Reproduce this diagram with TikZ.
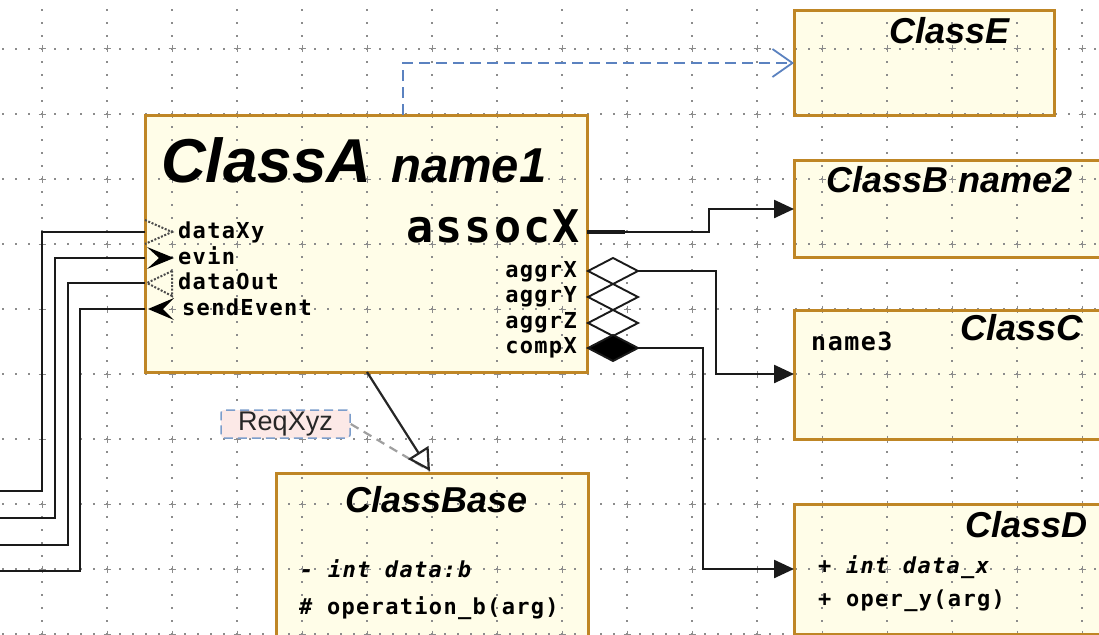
\documentclass[tikz,border=0pt]{standalone}
\usepackage{fontspec}
\setmainfont{Liberation Sans}
\newfontfamily\monoS[LetterSpace=6,BoldFont={DejaVu Sans Mono Bold},BoldItalicFont={DejaVu Sans Mono Bold Oblique},ItalicFont={DejaVu Sans Mono Oblique}]{DejaVu Sans Mono}
\newfontfamily\monoL[LetterSpace=5,BoldFont={DejaVu Sans Mono Bold}]{DejaVu Sans Mono}
\usetikzlibrary{arrows.meta}
\definecolor{boxfill}{HTML}{FFFDE8}
\definecolor{boxline}{HTML}{BF8625}
\definecolor{gridc}{HTML}{8C8C8C}
\definecolor{depblue}{HTML}{5B82C0}
\definecolor{reqfill}{HTML}{FCE9E7}
\definecolor{reqline}{HTML}{7C9DCB}
\definecolor{wirec}{HTML}{1A1A1A}
\tikzset{
  boxbg/.style={fill=boxfill, draw=none, anchor=north west, inner sep=0pt},
  boxborder/.style={draw=boxline, line width=3pt},
  wire/.style={draw=wirec, line width=2.4pt},
  portdot/.style={draw=gray!60!black, line width=2pt, dash pattern=on 2pt off 1.6pt},
  ttl/.style={anchor=base west, inner sep=0pt, font=\fontsize{36}{36}\selectfont\bfseries\itshape},
  lblL/.style={anchor=base west, inner sep=0pt, font=\fontsize{22}{22}\monoS\bfseries},
  lblR/.style={anchor=base east, inner sep=0pt, font=\fontsize{22}{22}\monoS\bfseries},
  lblI/.style={anchor=base west, inner sep=0pt, font=\fontsize{22}{22}\monoS\bfseries\itshape},
  filltip/.style={-{Triangle[length=20pt,width=18pt]}},
  reqbox/.style={draw=reqline, fill=reqfill, line width=1.5pt, dash pattern=on 9pt off 5pt, rounded corners=3pt, inner sep=0pt, text=black!85, font=\fontsize{27}{27}\selectfont},
}
\begin{document}
\begin{tikzpicture}[x=1pt,y=-1pt]
\fill[white] (0,0) rectangle (1099,634);
\useasboundingbox (0,0) rectangle (1099,634);
% box fills
\node[boxbg, minimum width=442pt, minimum height=257pt] (A) at (145,115) {};
\node[boxbg, minimum width=260pt, minimum height=104pt] (E) at (794,11) {};
\node[boxbg, minimum width=320pt, minimum height=97pt] (B) at (794,160) {};
\node[boxbg, minimum width=320pt, minimum height=129pt] (C) at (794,310) {};
\node[boxbg, minimum width=320pt, minimum height=130pt] (D) at (794,504) {};
\node[boxbg, minimum width=312pt, minimum height=180pt] (Base) at (276,473) {};
% grid
\foreach \r in {0,...,9} {
  \draw[gridc, line width=1.3pt, dash pattern=on 1.3pt off 11.7pt] (2.35,{49+65*\r}) -- (1099,{49+65*\r});
}
\foreach \c in {0,...,16} {
  \draw[gridc, line width=1.3pt, dash pattern=on 1.3pt off 11.7pt] ({42+65*\c},9.35) -- ({42+65*\c},640);
  \foreach \r in {0,...,9} {
    \draw[gridc, line width=1pt] ({42+65*\c-3.5},{49+65*\r}) -- ({42+65*\c+3.5},{49+65*\r})
      ({42+65*\c},{49+65*\r-3.5}) -- ({42+65*\c},{49+65*\r+3.5});
  }
}
% box borders
\foreach \n in {A,E,B,C,D,Base} {
  \draw[boxborder] (\n.north west) rectangle (\n.south east);
}
% coordinates
\coordinate (pDxy) at (145,232);
\coordinate (pEvin) at (145,258);
\coordinate (pDout) at (145,283);
\coordinate (pSend) at (145,309);
\coordinate (xDxy) at (0,491);
\coordinate (xEvin) at (0,518);
\coordinate (xDout) at (0,545);
\coordinate (xSend) at (0,571);
\coordinate (pAssoc) at (587,232);
\coordinate (bIn) at (794,209);
\coordinate (tAggrX) at (638,271);
\coordinate (tCompX) at (638,348);
\coordinate (cIn) at (794,374);
\coordinate (dIn) at (794,569);
\coordinate (gFrom) at (367,372);
\coordinate (gTo) at (430,471);
\coordinate (eFrom) at (403,115);
\coordinate (eIn) at (794,63);
% left wires
\draw[wire] (pDxy) -- ++(-103,0) |- (xDxy);
\draw[wire] (pEvin) -- ++(-90,0) |- (xEvin);
\draw[wire] (pDout) -- ++(-77,0) |- (xDout);
\draw[wire] (pSend) -- ++(-65,0) |- (xSend);
% port symbols
\draw[portdot] (145,220) -- (172,232) -- (145,244);
\fill[black] (147,247) -- (174,258) -- (147,269) -- (159,258) -- cycle;
\draw[portdot] (172,271) -- (147,283) -- (172,296) -- cycle;
\fill[black] (148,309) -- (174,298) -- (163,309) -- (174,320) -- cycle;
% assoc
\draw[wire, filltip] (pAssoc) -- ++(122,0) |- (bIn);
\draw[wirec, line width=4.4pt] (pAssoc) -- ++(38,0);
% diamonds
\foreach \yy in {271,297,323} {
  \draw[wirec, line width=1.9pt, fill=white] (588,\yy) -- (613,\yy-13) -- (638,\yy) -- (613,\yy+13) -- cycle;
}
\draw[wirec, line width=1.9pt, fill=black] (588,348) -- (613,335) -- (638,348) -- (613,361) -- cycle;
\draw[wire, filltip] (tAggrX) -- ++(78,0) |- (cIn);
\draw[wire, filltip] (tCompX) -- ++(65,0) |- (dIn);
% dependency to ClassE
\draw[depblue, line width=2pt, dash pattern=on 11pt off 6pt, -{Straight Barb[length=20pt,width=28pt,line width=1.8pt]}] (eFrom) |- (eIn);
% ReqXyz
\node[reqbox, minimum width=129pt, minimum height=28pt] (R) at (285.5,424) {ReqXyz};
\draw[gray!75, line width=2.2pt, dash pattern=on 9pt off 6pt] (R.east) -- (gTo);
\draw[draw=black!85, line width=2.2pt, -{Triangle[length=22pt,width=24pt,fill=white]}] (gFrom) -- (gTo);
% titles
\node[anchor=base west, inner sep=0pt, font=\fontsize{62}{62}\selectfont\bfseries\itshape] (tA) at (161,182) {ClassA};
\node[anchor=base west, inner sep=0pt, font=\fontsize{49}{49}\selectfont\bfseries\itshape] (tA2) at (391,182) {name1};
\node[anchor=base east, inner sep=0pt, font=\fontsize{45}{45}\monoL\bfseries] (tAssoc) at (580,242) {assocX};
\node[ttl] (tE) at (889,44) {ClassE};
\node[ttl] (tB) at (826,192) {ClassB name2};
\node[ttl] (tC) at (960,340) {ClassC};
\node[ttl] (tD) at (965,537) {ClassD};
\node[ttl] (tBase) at (345,512) {ClassBase};
% port labels
\node[lblL] (lDxy) at (178,238) {dataXy};
\node[lblL] (lEvin) at (178,264) {evin};
\node[lblL] (lDout) at (178,289) {dataOut};
\node[lblL] (lSend) at (182,315) {sendEvent};
\node[lblR] (lAX) at (577,277) {aggrX};
\node[lblR] (lAY) at (577,302) {aggrY};
\node[lblR] (lAZ) at (577,328) {aggrZ};
\node[lblR] (lCX) at (577,353) {compX};
\node[anchor=base west, inner sep=0pt, font=\fontsize{25}{25}\monoS\bfseries] (n3) at (811,350) {name3};
% members
\node[lblI] (m1) at (300,577) {- int data:b};
\node[lblL] (m2) at (299,614) {\# operation\_b(arg)};
\node[lblI] (m3) at (818,573) {+ int data\_x};
\node[lblL] (m4) at (818,606) {+ oper\_y(arg)};
\end{tikzpicture}
\end{document}
